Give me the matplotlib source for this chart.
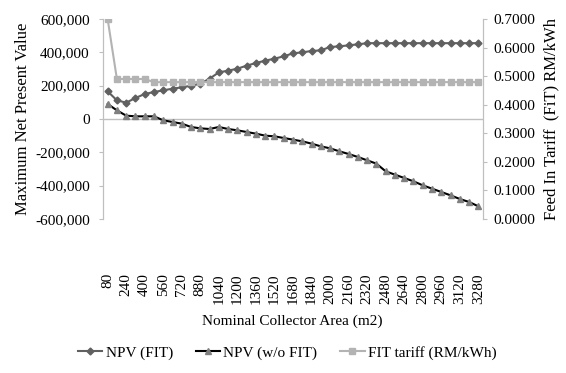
import matplotlib
matplotlib.use("Agg")
import matplotlib.pyplot as plt
import matplotlib.ticker as mticker
import numpy as np

# collector area (m2), 80 to 3280
area = [80, 160, 240, 320, 400, 480, 560, 640, 720, 800, 880, 960, 1040, 1120,
        1200, 1280, 1360, 1440, 1520, 1600, 1680, 1760, 1840, 1920, 2000, 2080,
        2160, 2240, 2320, 2400, 2480, 2560, 2640, 2720, 2800, 2880, 2960, 3040,
        3120, 3200, 3280]

npv_fit = [166000, 112000, 98000, 126000, 150000, 162000, 172000, 182000, 190000,
           200000, 212000, 242000, 280000, 290000, 302000, 320000, 336000, 350000,
           362000, 376000, 394000, 400000, 408000, 412000, 432000, 436000, 442000,
           448000, 455000, 455000, 455000, 455000, 455000, 455000, 455000, 455000,
           455000, 455000, 455000, 455000, 455000]

npv_nofit = [90000, 52000, 20000, 16000, 16000, 16000, -8000, -18000, -28000,
             -48000, -56000, -60000, -48000, -60000, -68000, -78000, -88000,
             -100000, -104000, -114000, -124000, -134000, -148000, -164000,
             -176000, -194000, -210000, -228000, -248000, -268000, -314000,
             -334000, -354000, -374000, -398000, -418000, -438000, -458000,
             -480000, -498000, -524000]

fit_tariff = [0.70, 0.49, 0.49, 0.49, 0.49] + [0.479] * 36

plt.rcParams['font.family'] = ['Liberation Serif', 'DejaVu Serif']
plt.rcParams['font.size'] = 11

fig = plt.figure(figsize=(5.66, 3.73), dpi=100)
ax = fig.add_axes([103 / 566, 1 - 219 / 373, 380 / 566, 200 / 373])
ax2 = ax.twinx()

x = np.arange(len(area))
axis_grey = '#BFBFBF'

l1, = ax.plot(x, npv_fit, color='#606060', lw=1.5, marker='D', ms=3.5,
              mfc='#606060', mec='#606060', label='NPV (FIT)')
l2, = ax.plot(x, npv_nofit, color='black', lw=1.5, marker='^', ms=5,
              mfc='#7F7F7F', mec='#7F7F7F', label='NPV (w/o FIT)')
l3, = ax2.plot(x, fit_tariff, color='#B3B3B3', lw=1.5, marker='s', ms=5,
               mfc='#B3B3B3', mec='#B3B3B3', label='FIT tariff (RM/kWh)')

ax.axhline(0, color=axis_grey, lw=1, zorder=0)

ax.set_xlim(-0.5, len(area) - 0.5)
ax.set_ylim(-600000, 600000)
ax2.set_ylim(0, 0.7)
ax.yaxis.set_major_locator(mticker.MultipleLocator(200000))
ax.yaxis.set_major_formatter(mticker.FuncFormatter(lambda v, p: f"{v:,.0f}"))
ax2.yaxis.set_major_locator(mticker.MultipleLocator(0.1))
ax2.yaxis.set_major_formatter(mticker.FormatStrFormatter('%.4f'))

ax.set_xticks(x[::2])
ax.set_xticklabels([str(a) for a in area[::2]], rotation=90)
ax.tick_params(axis='x', length=0, pad=39)

for a in (ax, ax2):
    a.spines['top'].set_visible(False)
    a.spines['bottom'].set_visible(False)
    a.spines['left'].set_color(axis_grey)
    a.spines['right'].set_color(axis_grey)
ax.tick_params(axis='y', color=axis_grey, length=3, pad=6.5)
ax2.tick_params(axis='y', color=axis_grey, length=3, pad=4.5)

ax.set_ylabel('Maximum Net Present Value', fontsize=12, labelpad=3)
ax2.set_ylabel('Feed In Tariff  (FiT) RM/kWh', fontsize=12, labelpad=6)
fig.text(292.5 / 566, 1 - 321 / 373, 'Nominal Collector Area (m2)',
         ha='center', va='center', fontsize=11)

fig.legend(handles=[l1, l2, l3], loc='center left',
           bbox_to_anchor=(78 / 566, 1 - 353 / 373), ncol=3, frameon=False,
           fontsize=11, handlelength=1.6, handletextpad=0.2,
           columnspacing=1.5, borderpad=0, borderaxespad=0)

fig.savefig('out.png', dpi=100)
